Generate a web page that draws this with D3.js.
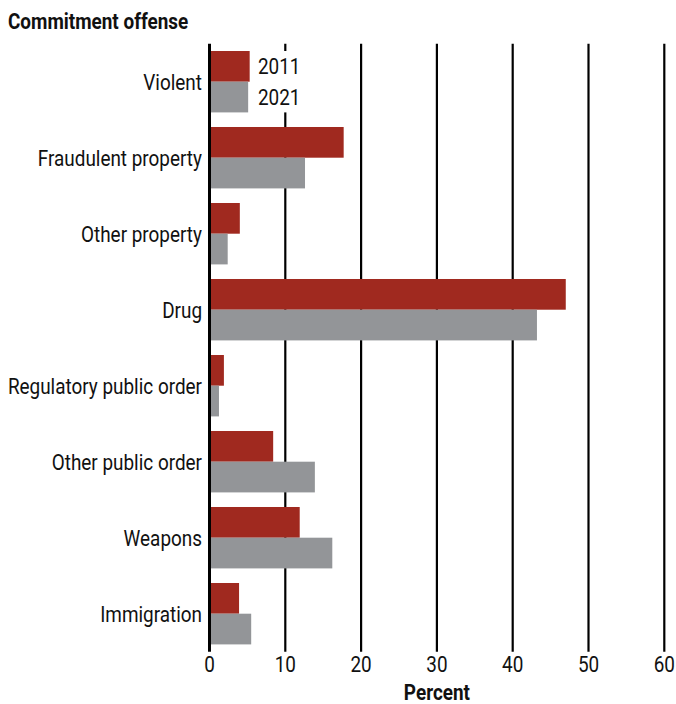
<!DOCTYPE html>
<html><head><meta charset="utf-8">
<script src="https://cdn.jsdelivr.net/npm/d3@7"></script>
<style>body{margin:0;background:#fff}svg{display:block}</style>
</head><body>
<svg id="c" width="676" height="704"></svg>
<script>
const categories = ["Violent","Fraudulent property","Other property","Drug","Regulatory public order","Other public order","Weapons","Immigration"];
const seriesNames = ["2011","2021"];
const values2011 = [5.3, 17.7, 4.0, 47.0, 1.9, 8.4, 11.9, 3.9];
const values2021 = [5.1, 12.6, 2.4, 43.2, 1.25, 13.9, 16.2, 5.5];
const xTicks = [0,10,20,30,40,50,60];
const colors = ["#A0291F","#939598"];
const font = "Roboto,'Noto Sans',sans-serif";
const SX = 0.86;

const svg = d3.select("#c");
const x = d3.scaleLinear().domain([0,60]).range([209.5,664.3]);
const y = d3.scaleBand().domain(categories).range([43.7,651.7]).paddingInner(0.192).paddingOuter(0.096);
const y1 = d3.scaleBand().domain(seriesNames).range([0,y.bandwidth()]);

function label(parent, tx, ty, txt, opts={}){
  return parent.append("text")
    .attr("transform",`translate(${tx},${ty}) scale(${opts.sx||SX},1)`)
    .attr("text-anchor",opts.anchor||"start")
    .attr("dy",opts.dy||null)
    .attr("font-family",font).attr("font-size",opts.size||22)
    .attr("font-weight",opts.bold?"bold":"normal").attr("fill","#111").text(txt);
}

// gridlines
svg.append("g").selectAll("line").data(xTicks.slice(1)).join("line")
  .attr("x1",d=>x(d)).attr("x2",d=>x(d)).attr("y1",43.7).attr("y2",651.7)
  .attr("stroke","#000").attr("stroke-width",2.2);

const data = categories.map((c,i)=>({c, v:[values2011[i],values2021[i]]}));
const g = svg.append("g");
data.forEach(d=>{
  seriesNames.forEach((s,j)=>{
    g.append("rect").attr("x",x(0)).attr("y",y(d.c)+y1(s))
      .attr("width",x(d.v[j])-x(0)).attr("height",y1.bandwidth())
      .attr("fill",colors[j]);
  });
});

// axis line
svg.append("line").attr("x1",x(0)).attr("x2",x(0)).attr("y1",43.7).attr("y2",651.7)
  .attr("stroke","#000").attr("stroke-width",3);

// category labels
const cl = svg.append("g");
categories.forEach(c=>label(cl, 202, y(c)+y.bandwidth()/2, c, {anchor:"end", dy:"0.36em"}));

// tick labels
const tl = svg.append("g");
xTicks.forEach(t=>label(tl, x(t), 672, t, {anchor:"middle"}));

label(svg, x(30), 700, "Percent", {anchor:"middle", bold:true});
label(svg, 8, 29, "Commitment offense", {bold:true});

// legend
const lg = svg.append("g");
lg.append("rect").attr("x",253).attr("y",y(categories[0])).attr("width",50).attr("height",y.bandwidth()).attr("fill","#fff");
seriesNames.forEach((s,j)=>{
  label(lg, 258, y(categories[0])+y1(s)+y1.bandwidth()/2, s, {dy:"0.36em"});
});
</script>
</body></html>
